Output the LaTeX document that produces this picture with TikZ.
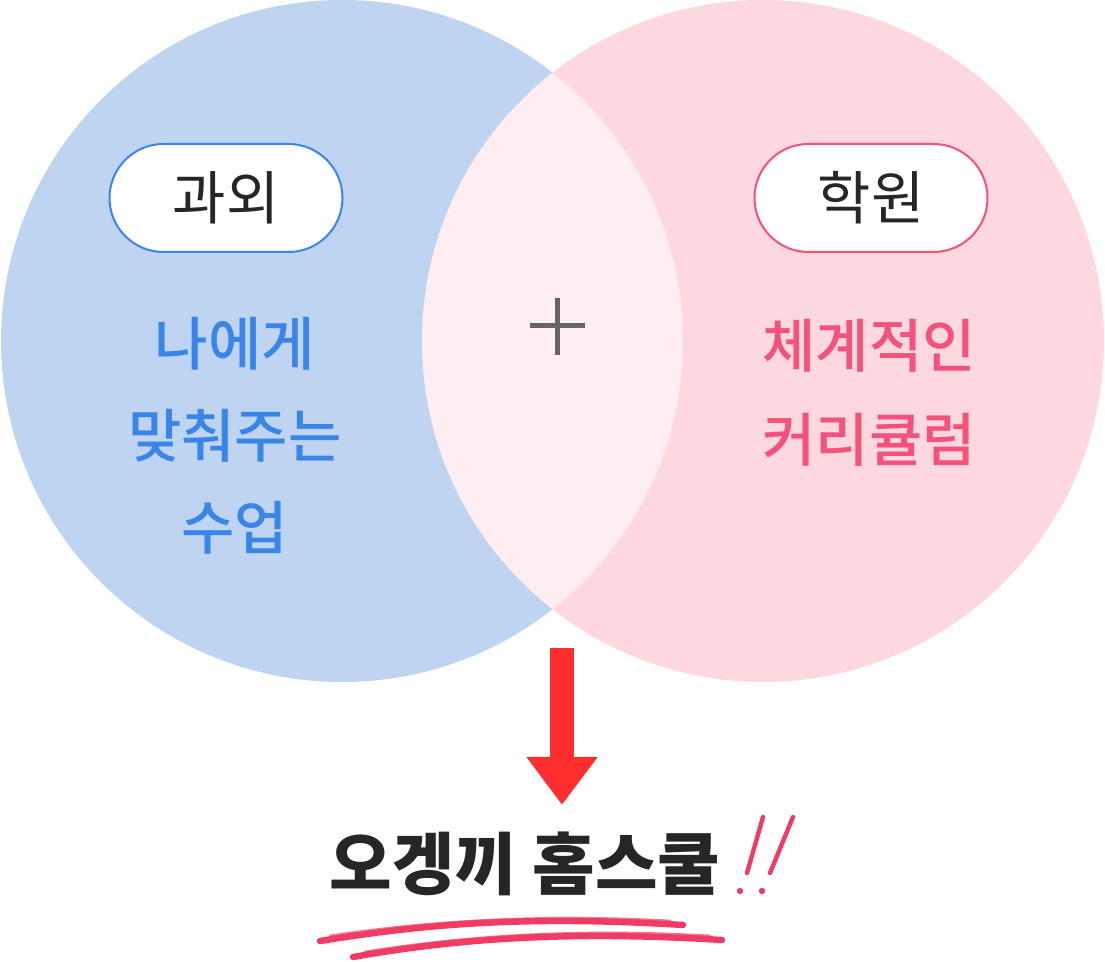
\documentclass[tikz,border=0pt]{standalone}
\usepackage{fontspec}
\newfontfamily\kr{Noto Sans CJK KR}
\newfontfamily\krm{Noto Sans CJK KR Medium}
\usetikzlibrary{arrows.meta}
\definecolor{leftfill}{HTML}{BFD4F0}
\definecolor{rightfill}{HTML}{FDD8DF}
\definecolor{midfill}{HTML}{FEEEF1}
\definecolor{blueink}{HTML}{3A86E8}
\definecolor{pinkink}{HTML}{F4527A}
\definecolor{redarrow}{HTML}{FF2E2E}
\definecolor{darkink}{HTML}{262626}
\definecolor{plusgray}{HTML}{656565}
\definecolor{brush}{HTML}{F03C64}
\def\r{341}
\def\lcx{342}
\def\rcx{763}
\def\cy{341}

\begin{document}
\begin{tikzpicture}[x=0.5pt, y=-0.5pt, line cap = round, line join = round]
		\useasboundingbox (0,0) rectangle (1105,962);
		% Coordinates
		\coordinate (lc) at (\lcx,\cy);
		\coordinate (rc) at (\rcx,\cy);
		
		% Circles
		\fill[leftfill] (lc) circle (\r);
		\fill[rightfill] (rc) circle (\r);
		\begin{scope}
			\clip (lc) circle (\r);
			\fill[midfill] (rc) circle (\r);
		\end{scope}
		
		% Pills
		\node[draw=blueink, line width=1pt, fill=white, rounded corners=27pt,
			  minimum width=116.5pt, minimum height=54pt, text=darkink,
			  font=\kr\fontsize{29}{30}\selectfont] (gwaoe) at (226,198) {과외};
		\node[draw=pinkink, line width=1pt, fill=white, rounded corners=27pt,
			  minimum width=116.5pt, minimum height=54pt, text=darkink,
			  font=\kr\fontsize{29}{30}\selectfont] (hagwon) at (871,198) {학원};
		
		% Texts
		\node[align=center, text=blueink, font=\krm\fontsize{29}{46}\selectfont]
			(lefttext) at (235,436) {나에게\\맞춰주는\\수업};
		\node[align=center, text=pinkink, font=\krm\fontsize{29}{47}\selectfont]
			(righttext) at (869,393) {체계적인\\커리큘럼};
		
		% Plus
		\draw[plusgray, line width=2.5pt, line cap=butt] (530,326) -- (585,326);
		\draw[plusgray, line width=2.5pt, line cap=butt] (557,298) -- (557,355);
		
		% Title
		\node[text=darkink, font=\kr\bfseries\fontsize{34}{36}\selectfont]
			(title) at (525,864) {오겡끼 홈스쿨};
		
		% Arrow
		\coordinate (arrtop) at (562,648);
		\draw[redarrow, line width=12pt, line cap=butt, shorten >=10pt,
			  -{Triangle[width=34pt, length=24pt]}]
			(arrtop) -- (arrtop |- title.north) ;
		
		% !!
		\foreach \a/\b/\c in {763/747/740, 793/770/762} {
			\draw[brush, line width=2.2pt] (\a,817) -- (\b,873);
			\fill[brush] (\c,891) circle (3.2);
		}
		
		% Underline
		\draw[brush, line width=3.2pt] (320,941) .. controls (420,925) and (520,915) .. (683,925);
		\draw[brush, line width=1.4pt, opacity=0.7] (330,936) .. controls (430,921) and (540,914) .. (670,921);
		\draw[brush, line width=3.2pt] (353,957) .. controls (450,940) and (560,930) .. (722,940);
		\draw[brush, line width=1.4pt, opacity=0.7] (365,952) .. controls (460,937) and (570,928) .. (710,936);
	\end{tikzpicture}
\end{document}
